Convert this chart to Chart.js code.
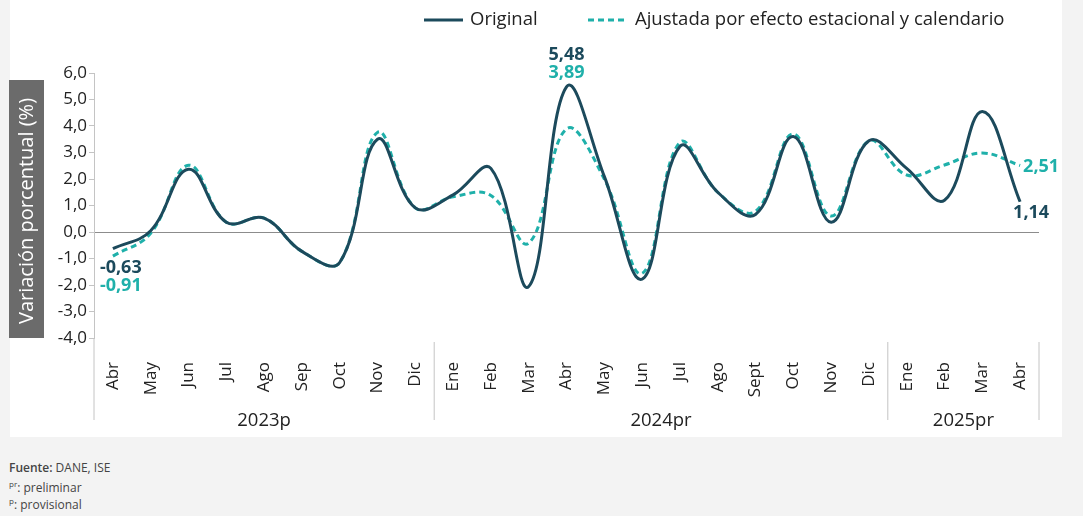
<!DOCTYPE html>
<html>
<head>
<meta charset="utf-8">
<script src="https://cdn.jsdelivr.net/npm/chart.js@4.4.1/dist/chart.umd.min.js"></script>
<style>
  body { margin: 0; background: #f3f3f3; font-family: "Open Sans", sans-serif; }
  #wrap { position: relative; width: 1083px; height: 437px; }
  .foot { position: absolute; left: 9px; font-size: 12px; color: #444; }
</style>
</head>
<body>
<div id="wrap"><canvas id="canvas2" width="1083" height="437"></canvas></div>
<div class="foot" style="top:459px"><b style="font-weight:600">Fuente:</b> DANE, ISE</div>
<div class="foot" style="top:478px"><sup style="font-size:8px">pr</sup>: preliminar</div>
<div class="foot" style="top:495px"><sup style="font-size:8px">p</sup>: provisional</div>
<script>
const months = ['Abr', 'May', 'Jun', 'Jul', 'Ago', 'Sep', 'Oct', 'Nov', 'Dic',
  'Ene', 'Feb', 'Mar', 'Abr', 'May', 'Jun', 'Jul', 'Ago', 'Sept', 'Oct', 'Nov', 'Dic',
  'Ene', 'Feb', 'Mar', 'Abr'];
const years = ['2023p', '2024pr', '2025pr'];
const yearStart = [0, 9, 21];
const original = [-0.63, 0.05, 2.37, 0.37, 0.52, -0.73, -1.15, 3.5, 0.91,
  1.4, 2.4, -2.06, 5.48, 2.1, -1.78, 3.23, 1.5, 0.66, 3.6, 0.37, 3.44,
  2.4, 1.2, 4.55, 1.14];
const ajustada = [-0.91, -0.05, 2.52, 0.37, 0.52, -0.73, -1.15, 3.76, 0.91,
  1.33, 1.38, -0.42, 3.89, 2.0, -1.56, 3.38, 1.5, 0.78, 3.7, 0.6, 3.44,
  2.15, 2.53, 2.98, 2.51];
const yTicks = [-4, -3, -2, -1, 0, 1, 2, 3, 4, 5, 6];

const dark = '#1c4a5c';
const teal = '#1fb0aa';
const fmt = v => v.toFixed(2).replace('.', ',');

const extras = {
  id: 'extras',
  beforeDraw(chart) {
    const ctx = chart.ctx;
    ctx.save();
    ctx.fillStyle = '#fff';
    ctx.fillRect(10, 0, 1052, 437);
    // y title box
    ctx.fillStyle = '#6b6b6b';
    ctx.fillRect(9, 80, 35, 258);
    ctx.translate(27, 211);
    ctx.rotate(-Math.PI / 2);
    ctx.fillStyle = '#fff';
    ctx.font = '20px "Open Sans"';
    ctx.textAlign = 'center';
    ctx.textBaseline = 'middle';
    ctx.fillText('Variación porcentual (%)', 0, 0);
    ctx.restore();
  },
  afterDraw(chart) {
    const ctx = chart.ctx;
    const x = chart.scales.x;
    const area = chart.chartArea;
    ctx.save();
    // group separators + year labels
    const bounds = yearStart.map(i => i === 0 ? area.left : (x.getPixelForValue(i - 1) + x.getPixelForValue(i)) / 2);
    bounds.push(area.right);
    ctx.strokeStyle = '#c4c4c4';
    ctx.lineWidth = 1;
    bounds.forEach((b, i) => {
      ctx.beginPath();
      ctx.moveTo(b, i === 0 ? area.bottom : area.bottom + 4);
      ctx.lineTo(b, area.bottom + 82);
      ctx.stroke();
    });
    ctx.fillStyle = '#222';
    ctx.font = '18.5px "Open Sans"';
    ctx.textAlign = 'center';
    ctx.textBaseline = 'middle';
    years.forEach((y, i) => ctx.fillText(y, (bounds[i] + bounds[i + 1]) / 2, area.bottom + 83));

    // legend
    ctx.lineWidth = 3;
    ctx.strokeStyle = dark;
    ctx.beginPath(); ctx.moveTo(424, 20); ctx.lineTo(463, 20); ctx.stroke();
    ctx.strokeStyle = teal;
    ctx.setLineDash([6, 4]);
    ctx.beginPath(); ctx.moveTo(588, 20); ctx.lineTo(624, 20); ctx.stroke();
    ctx.setLineDash([]);
    ctx.textAlign = 'left';
    ctx.fillStyle = '#222';
    ctx.font = '18.5px "Open Sans"';
    ctx.fillText('Original', 470, 20);
    ctx.fillText('Ajustada por efecto estacional y calendario', 635, 20);

    // data labels
    const p0 = chart.getDatasetMeta(0).data;
    const p1 = chart.getDatasetMeta(1).data;
    ctx.font = 'bold 18px "Open Sans"';
    const label = (txt, color, px, py, align) => {
      ctx.fillStyle = color;
      ctx.textAlign = align;
      ctx.fillText(txt, px, py);
    };
    label(fmt(original[0]), dark, p0[0].x - 13, p0[0].y + 19, 'left');
    label(fmt(ajustada[0]), teal, p1[0].x - 13, p1[0].y + 30, 'left');
    label(fmt(original[12]), dark, p0[12].x, p0[12].y - 32, 'center');
    label(fmt(ajustada[12]), teal, p0[12].x, p0[12].y - 14, 'center');
    const n = original.length - 1;
    label(fmt(ajustada[n]), teal, p1[n].x + 3, p1[n].y + 1, 'left');
    label(fmt(original[n]), dark, p0[n].x + 29, p0[n].y + 11, 'right');
    ctx.restore();
  }
};

const ctx2 = canvas2.getContext('2d');
const config = {
  type: 'line',
  data: {
    labels: months,
    datasets: [{
      label: 'Original',
      data: original,
      borderColor: dark,
      borderWidth: 3,
      pointRadius: 0,
      tension: 0.4
    }, {
      label: 'Ajustada por efecto estacional y calendario',
      data: ajustada,
      borderColor: teal,
      borderWidth: 3,
      borderDash: [6, 4],
      pointRadius: 0,
      tension: 0.4
    }]
  },
  options: {
    responsive: false,
    animation: false,
    layout: { padding: { top: 73, right: 44, left: 0, bottom: 0 } },
    plugins: { legend: { display: false }, tooltip: { enabled: false } },
    scales: {
      x: {
        offset: true,
        grid: { display: false },
        border: { display: false },
        afterFit: s => { s.height = 99; },
        ticks: {
          minRotation: 90, maxRotation: 90, autoSkip: false, padding: 16,
          color: '#222', font: { family: 'Open Sans', size: 17 }
        }
      },
      y: {
        min: -4, max: 6,
        afterFit: s => { s.width = 94; },
        afterBuildTicks: s => { s.ticks = yTicks.map(v => ({ value: v })); },
        border: { color: '#c4c4c4' },
        grid: {
          color: c => c.tick && c.tick.value === 0 ? '#8c8c8c' : 'rgba(0,0,0,0)',
          tickColor: '#c4c4c4', tickLength: 5
        },
        ticks: {
          padding: 2, color: '#222', font: { family: 'Open Sans', size: 17 },
          callback: v => v.toFixed(1).replace('.', ',')
        }
      }
    }
  },
  plugins: [extras]
};
const chart2 = new Chart(ctx2, config);
</script>
</body>
</html>
